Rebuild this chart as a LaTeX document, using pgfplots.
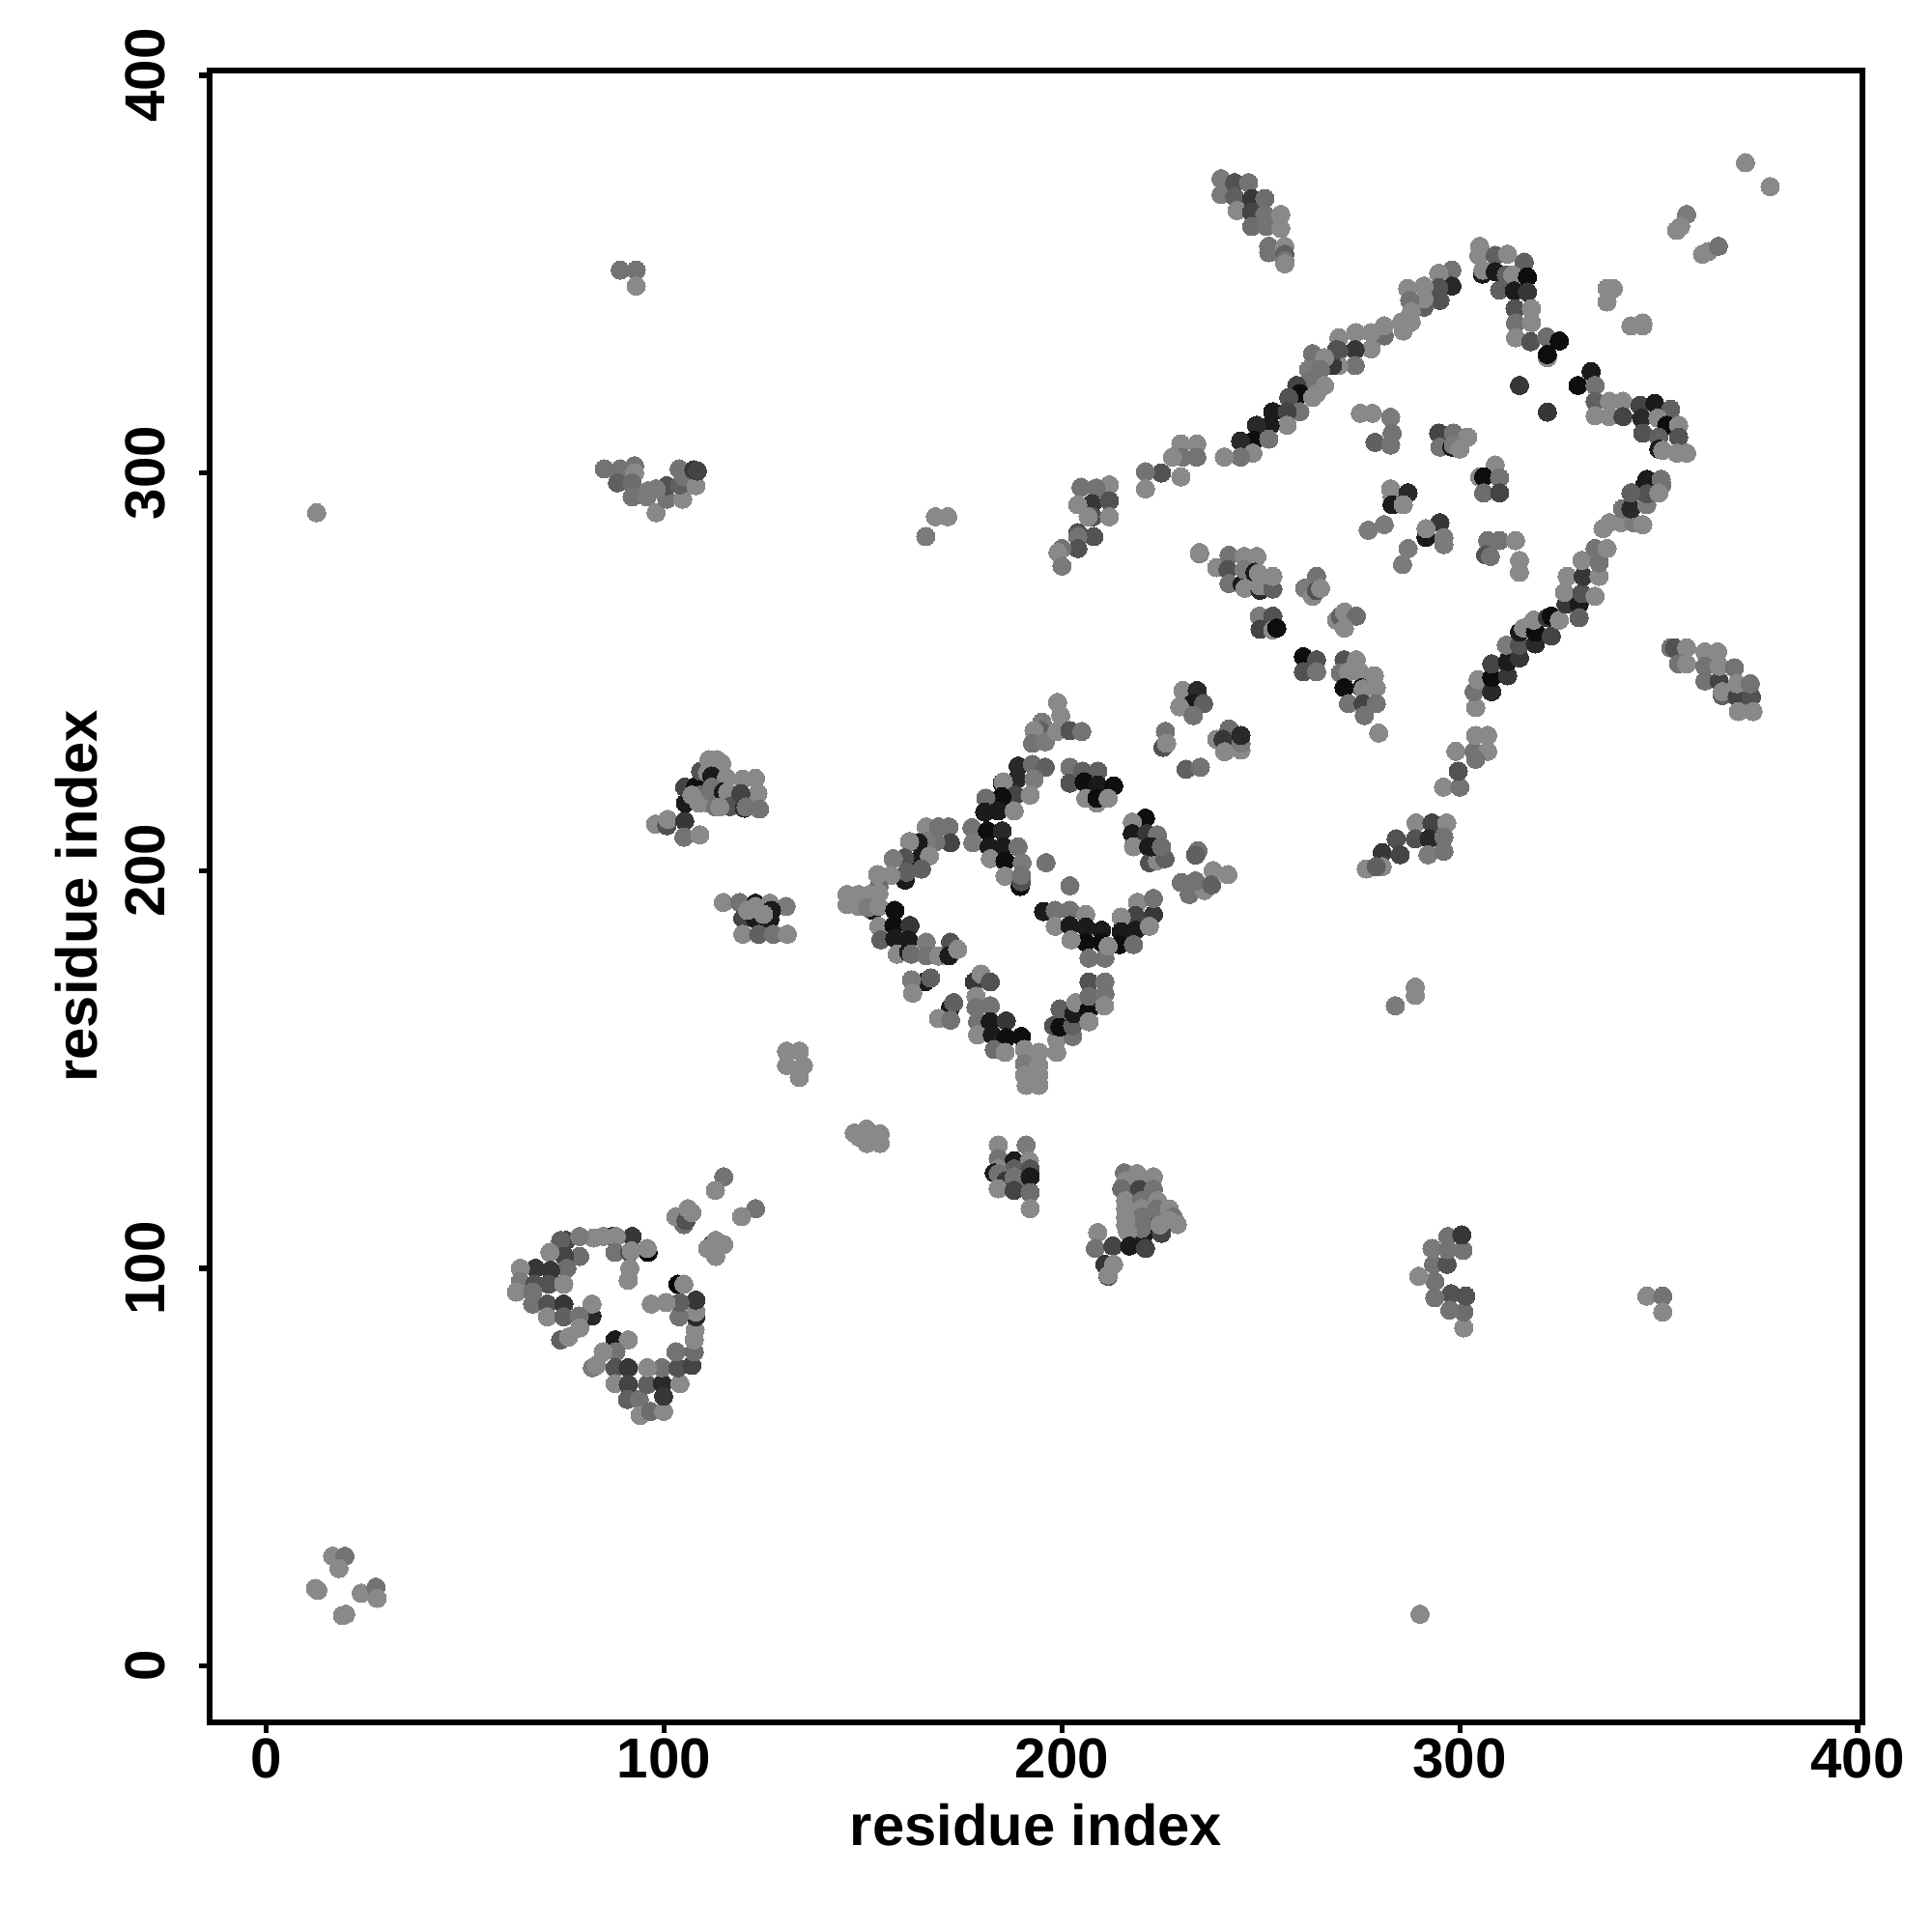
\documentclass[border=0pt]{standalone}
\usepackage{fontspec}
\setmainfont{Liberation Sans}
\usepackage{pgfplots}
\pgfplotsset{compat=1.18}
\pgfplotsset{colormap={grayscale}{gray(0cm)=(0); gray(1cm)=(1)}}
\begin{document}
\begin{tikzpicture}[x=1cm,y=1cm]
\path (0,0) rectangle (20,20);
\begin{axis}[
  at={(2.17cm,2.17cm)},anchor=south west,
  scale only axis,width=17.11cm,height=17.10cm,
  xmin=-14.2,xmax=401.2,ymin=-14.2,ymax=401.2,
  xtick={0,100,200,300,400},ytick={0,100,200,300,400},
  tick align=outside,xtick pos=bottom,ytick pos=left,
  major tick length=0.11cm,
  axis line style={line width=1.8pt},
  every tick/.style={black,line width=1.5pt},
  /pgf/number format/assume math mode=true,
  ticklabel style={font=\fontsize{16.6}{20}\selectfont\bfseries},
  xticklabel style={anchor=center,yshift=-0.26cm},
  yticklabel style={rotate=90,anchor=center,yshift=0.56cm},
  xlabel={residue index},ylabel={residue index},
  label style={font=\fontsize{17}{20}\selectfont\bfseries},
  xlabel style={at={(axis description cs:0.5,0)},anchor=center,yshift=-1.06cm},
  ylabel style={at={(axis description cs:0,0.5)},anchor=center,yshift=1.38cm},
  point meta min=0,point meta max=.94,
  clip=false
]
\addplot[only marks,scatter,point meta=explicit,mark=*,mark size=2.7pt,
  scatter/use mapped color={draw=mapped color,fill=mapped color},line width=0pt] coordinates {
% bottom-left
(12.4,19.5)[.5](13,19)[.5](16.7,27.6)[.5](19.8,27.6)[.42](18.3,24.5)[.5](19.2,12.7)[.5](20,13)[.5](23.9,18.3)[.5](27.6,19.8)[.42](27.9,17)[.5]
(12.7,290)[.5](290,13)[.5]
(89,351)[.42](93,351)[.42](93,347)[.5](347,93)[.5](351,93)[.42](351,89)[.5]
% cluster A
(115,123)[.42](112.9,119.6)[.5](123,115)[.42](119.5,113)[.5]
(105,111)[.4](103,113)[.5](105.5,112)[.3](106,115)[.5](107,114)[.5]
(112,106)[.25](115,106)[.5](111,105)[.5](113,103)[.5](113,107)[.5]
(96,104)[.03](95.8,105)[.5](87,108)[.2](92,108)[.2](88,108)[.5](84.7,108)[.5](82.3,107.6)[.5](75.4,107)[.25](74,107)[.35](78.8,108)[.45]
(78.8,103)[.4](75,103)[.25](71.3,104)[.5](75.6,100)[.4](71.5,99.5)[.2](67.7,100)[.2](63.9,100)[.5](63.9,96.7)[.45](67.5,96)[.3](71,96)[.3](74.8,96)[.5](62.9,94)[.5](67,94)[.42](67,91)[.42](70.7,91)[.3](74.8,91)[.2](70.7,87.8)[.5](74.8,87.8)[.35](81.9,88)[.15](81.9,91)[.5](78.7,88)[.42](78.8,85)[.5](74,82)[.35](76,82.7)[.5]
(87.7,104)[.42](91.4,104)[.3](91.8,104.4)[.5](91.4,100)[.5](91,97)[.5]
(87.7,82)[.1](91,82)[.5](87.9,79)[.42](84.7,79)[.5](82,75)[.45](83,75.6)[.5](87.7,75)[.3](91,75)[.2](87.7,71)[.5](91,70.8)[.25](90.8,67)[.35](93.8,67)[.42](94,63)[.5](96.6,64)[.4](99.9,64)[.5](95.8,70.8)[.35](99.6,71)[.15](99.9,67.8)[.2](99.5,75)[.42](95.8,75)[.5](104,71)[.5](103.5,75)[.3](103,79)[.42](107,75.6)[.25](107.6,79)[.4](107.6,82)[.5](107.8,84.5)[.5](108,87.8)[.15](108,89)[.5](108,92)[.2](103.8,87.8)[.42](104,91.4)[.35](100.5,91.4)[.5](96.8,91)[.5](103.5,96)[.03](105,96)[.5]
% 90,300
(85,301)[.42](89,301)[.42](92.6,301.8)[.42](92.6,300)[.5](88.3,297.5)[.35](92,297.5)[.4](92,294)[.42](95.7,294)[.45](98,290)[.5](100.7,293.4)[.42](104.7,293.4)[.5](100.7,296.8)[.3](103.8,301)[.42](104,297)[.35](105,299)[.42](108,296.8)[.5](107.5,300.8)[.2](108.4,300.5)[.25](96,295.5)[.45](98,296)[.45]
% 300,100
(301,85)[.5](301,89)[.4](301.5,93)[.3](297.8,93.6)[.3](297.5,89.5)[.42](293.7,92.6)[.42](293.7,96.7)[.42](289.7,98)[.5](293.4,101)[.42](296.8,101)[.3](293,105)[.45](297,104.7)[.42](297,108)[.42](300.8,104.5)[.42](300.5,108.4)[.2]
% 110,220
(97.9,211.7)[.35](97.9,211.7)[.5](100.7,211.3)[.3](100.9,212.9)[.5](105.2,212.5)[.2](105,208.4)[.42](109,209)[.5](105.4,217)[.1](105.2,221)[.25](108,221.2)[.05](109,219)[.4](107,219)[.5](109.2,225)[.3](110.9,224.6)[.5](111.3,227.9)[.5](113.3,227.9)[.5](114.5,227)[.5](112,223.8)[.1](115.7,223.4)[.5](108.8,217)[.5](111.2,217)[.5](112,221)[.42](112,219.8)[.42](114.9,219.8)[.1](116,219.8)[.5](117,219)[.5](113,216)[.42](116.5,216.1)[.3](114,216)[.5](119.8,223)[.5](123,223.2)[.5](123.6,219.4)[.5](119.3,219.4)[.25](120.2,215.7)[.15](120.6,216)[.42](124,215.5)[.42]
% 125,187
(114.9,192)[.5](119,192)[.42](123,191.8)[.1](123,191)[.5](126.6,191.8)[.5](130.7,191)[.45](119.8,188)[.25](123,187.8)[.1](126.6,187.8)[.1](127,190)[.1](121,190)[.5](125,189)[.5](119.8,184)[.5](123.8,184)[.35](127.5,184)[.42](131,184)[.5]
% 188,123
(184,131)[.5](191,131)[.45](184,127.6)[.42](188,127)[.1](191.8,127)[.5](184,125)[.5](188,125)[.35](192,125)[.3](183,124)[.1](184,123.8)[.42](186,122)[.2](190,122)[.4](188,123)[.42](192,123)[.1](184,120)[.5](188,119.6)[.25](192,119)[.4](192,115)[.5]
% 220,112
(215.7,124)[.42](218.9,123.8)[.5](223,123)[.5](216,122)[.5](220,121)[.5](215,120)[.4](219.5,119.8)[.25](223,119.9)[.42](216,117)[.5](220,117)[.42](224,117)[.5](216,115)[.5](220,115)[.5](224,112)[.35](223.8,114.9)[.42](227,114.9)[.5](228,112.9)[.42](227,112)[.5](229,111)[.5](220.5,108.4)[.1](225,108.8)[.25](224.6,110.9)[.5](220,112.9)[.42](220,110)[.42](216,112.9)[.5](216,111)[.5](216.5,109.2)[.5](209,109)[.5](208.4,105)[.42](212.8,105.6)[.25](217,105.6)[.1](221,105)[.25](210.8,101)[.2](213,101)[.5](211.6,98)[.25](211.6,98.3)[.5]
% 150,132
(147.8,134)[.5](150.9,135)[.5](151,131.4)[.5](154.3,133.8)[.5](154.3,131.4)[.5](149,133)[.5](130.8,154.6)[.5](134,154.6)[.5](130.8,151)[.5](135,151)[.5](134,148)[.5]
% diamond
(198.9,242.3)[.5](199.7,239)[.5](195,237.3)[.45](194.6,235.2)[.35](193,235.2)[.5](192.6,232)[.42](195.8,232.4)[.45](198.7,235)[.5](202,235.2)[.3](205,235)[.42]
(189,226.3)[.15](192.6,226.7)[.4](195.8,226)[.35](188.7,223)[.15](193,223)[.45](185,222)[.15](185.3,222.3)[.5](188.3,219)[.25](192,219)[.5](184.9,218.6)[.05](180.9,218.2)[.4](184,215)[.1](188,215)[.5](180.6,214.7)[.1]
(202,226)[.42](202,222)[.3](205.2,225)[.35](209,225)[.35](205.6,222.3)[.05](209,221.5)[.1](213,221.3)[.05](206,218.2)[.5](208.8,217)[.5](208.8,218.2)[.05](211.6,218.2)[.5]
(221,213.2)[.05](217.7,212.2)[.5](217.7,209.3)[.1](221.4,209.3)[.2](224,209)[.42](218,206)[.5](221.8,206)[.1](222,202)[.3](224,202.5)[.5](225.9,203)[.35](222.5,206)[.1](225,206)[.4]
(234.2,205)[.42](233.6,203.9)[.35](238,200)[.5](241.7,199)[.5](232,194)[.42](235.8,195)[.5](233.6,197.4)[.42](237.6,196.4)[.35](230,197)[.42]
(223,189)[.2](219,192)[.5](218.5,188.7)[.25](214.9,188.3)[.5](214.9,184.6)[.1](218.5,185)[.1](222,186)[.5](223,193)[.42](214.5,181.4)[.05](218,181.4)[.4]
(195.4,189.7)[.1](198.3,190)[.42](202,190)[.42](206,189)[.5](198.3,186)[.5](202,186.2)[.1](206,185.8)[.1](210,185)[.1](206,182)[.05](202.3,182.6)[.5](210,182)[.05](206.8,178)[.42](210.8,178)[.42](211.6,181)[.5]
(196,202)[.42](202,196.2)[.42]
(177.4,210.8)[.42](177.6,207)[.45](181.3,210)[.05](185,210)[.15](181.7,206)[.1](185.3,206)[.1](189,206)[.42](182,203)[.5](185.7,202.4)[.05](190,202)[.45](185.7,198.6)[.5](189.5,196)[.05](189.8,197.2)[.3](189.8,198.8)[.42]
(171.6,211)[.42](165.9,211)[.5](169,211)[.42](172,207)[.25](168.3,207.3)[.42](165.9,207.3)[.45](163.9,207)[.1](161.7,207.3)[.5](164.3,202.9)[.1](166.7,203.7)[.5](160.5,203.2)[.3](157.6,203)[.45](164.7,200.4)[.35](160.6,197.6)[.1](161,199.6)[.35](157,198.8)[.5](154,196)[.4](153.7,199)[.5]
(146,194)[.5](148.9,194)[.5](151.7,194)[.5](154,194.3)[.5](146,191.5)[.5](148.9,191)[.5](152.5,190)[.1](151.3,190.7)[.45](154,191)[.5](158,190)[.05]
(154,186)[.5](157.8,186.2)[.05](161.8,186.2)[.2](154.5,182.6)[.35](158,183)[.1](161.4,182.6)[.1](165.9,182)[.45](158.6,179)[.5](161.5,179.5)[.1](162.2,179)[.4](165.9,178.6)[.42](169,178.5)[.5](172,182)[.3](171.6,178.6)[.1](173.8,180.2)[.5]
(165.5,172)[.1](167,173)[.35](162.2,172.5)[.45](162.5,169.2)[.5](172,165.6)[.1](172.8,166.8)[.35](169,162.8)[.5](172,162.4)[.42]
(178,172)[.2](179.7,174)[.5](182,172)[.3](178.4,168.4)[.5](178.4,165.6)[.42](182,166)[.42](178.8,162)[.42](182,162)[.1](186,162.2)[.2](178.8,158.7)[.5](182.5,158.7)[.1](186,158)[.05](183,155)[.4](185.7,154.3)[.5](189.8,158.3)[.05](190.6,155)[.5](194.2,154.3)[.5](190.6,151.4)[.45](194.2,151)[.5](190.6,148.6)[.5](194.2,148.6)[.5](191,146)[.5](194.2,146)[.5]
(198.7,154.3)[.5](198.7,157.5)[.5](202.7,158.3)[.42](197.9,161)[.3](199.5,160.7)[.05](199.5,165.2)[.35](202.7,161)[.35](203,164)[.1](203.5,166.8)[.5](206.8,165)[.05](206.8,162)[.5](206.8,172)[.3](206.8,168.4)[.4](210.8,172)[.42](210.8,169)[.42](210.7,166)[.5]
% 235,240
(230.4,245.3)[.5](234,245.3)[.15](232.8,242)[.1](235.6,242)[.35](229.6,241.2)[.5](233,239)[.42](225.4,231)[.3](226,235)[.42](226.3,232)[.5]
(242,235.6)[.4](238.9,233)[.5](240.5,233)[.2](240.9,229.9)[.5](245,230.3)[.5](245,232)[.45](245,234)[.15](231.2,225.5)[.35](234.8,226)[.42]
% 245,275
(234.6,279.7)[.45](234.6,280)[.5](238.9,276.2)[.5](242,279.3)[.42](241.7,275.7)[.3](242,272.2)[.42](245.3,272)[.1](245.8,279)[.5](249,279)[.5](245.8,275.7)[.45](246,271)[.5](248.5,275)[.1](249.4,274.8)[.5](249.8,270.5)[.15](249.8,271.6)[.5](253,270.8)[.35](253,274)[.5]
(264,274)[.42](261,271)[.45](263,269)[.5](264,270.4)[.3](265,271)[.5](269,263)[.5](270,264)[.35](271,265)[.5](274,264)[.4](271,261)[.5]
(249.6,264)[.45](253,264)[.3](249.8,260.7)[.25](253,260.5)[.5](254,261)[.05](260.7,253.8)[.05](264,253)[.3](260.7,250)[.3](264,250)[.42]
(270.9,253)[.3](274,253)[.5](271,249)[.1](270,249.7)[.42](272,250)[.5](274.9,250)[.5](278.5,249)[.5](270.9,246)[.05](275.3,246)[.1](275.7,245.7)[.5](279,246)[.5](272,242)[.42](275.7,242)[.25](279,242)[.42](276,239)[.42](279.6,234.6)[.5]
% long arm
(289,212)[.5](293,212)[.25](296.7,212)[.5](288.8,208)[.3](292.3,208)[.15](296,208.5)[.42](292,204)[.45](296,204.9)[.42](284,208)[.3](280.5,204.5)[.2](285,204)[.25](280.5,201)[.5](276.5,200.4)[.5](279,201)[.35]
(295.9,221)[.5](300,221)[.42](299.6,225)[.3](299,230)[.5](303.6,230)[.42](307,230)[.5](304,228)[.42](304,234)[.5](307,234)[.5]
(304,241)[.5](303.6,245)[.42](304.6,248)[.5](308,245)[.15](308,248.6)[.05](308,252)[.25](312,249)[.2](312,252.6)[.1](311.7,256.7)[.45](315,253.5)[.2](315,256.7)[.3](315,260)[.1](316,261)[.5](319,257)[.15](319,260)[.05](318.6,263)[.5](323,259)[.25](322,263.6)[.2](323,264)[.05](325,263)[.5](326.7,267)[.2](330,267)[.1](330,263.6)[.35](326.3,270)[.5](330.7,269.7)[.3](334,269)[.5](327,274)[.5](331,274)[.2](330.7,278)[.5](335,274)[.5](335,277.4)[.42](334,281)[.42](337,281)[.5](336,286)[.5](337.6,287.5)[.5](340.5,287.5)[.5](343.7,287.5)[.45](346,287)[.5](340.9,291)[.42](343.3,295)[.35](343,291)[.15](347,292)[.45](346.8,295)[.2](350,295)[.5](346.5,297)[.1](350.8,297)[.42]
% right cluster
(333,325.5)[.1](329.7,322)[.05](334,322)[.42](334,318)[.35](337.6,318)[.5](341,318)[.5](334,314.4)[.5](337.5,314.2)[.5](341,314.2)[.25](345.3,317)[.25](349,317.5)[.1](353,316)[.35](345.7,313.8)[.15](349.8,313.8)[.5](346,310)[.3](352,312)[.05](355,312)[.5](355,309)[.3](350,309)[.35](350,306)[.1](351,305.7)[.5](354.6,305)[.5](357,305)[.5]
(347,298.4)[.1](350.6,298.4)[.42](347,294.8)[.3](350,295)[.5](343,295)[.35]
(315,322)[.2](322,315.3)[.2]
(305,357)[.5](304.8,354.7)[.5](305.7,350)[.1](305.8,351)[.5](308.9,354.7)[.35](312,355)[.5](316.2,353)[.35](308.9,350.6)[.1](311.7,349.8)[.35](313.3,349.8)[.5](317,349.3)[.05](310,346)[.35](313.7,345.8)[.1](317,345.5)[.2]
(313.9,341.3)[.3](318,341.3)[.5](314,337.7)[.42](318,337.8)[.5](314,334)[.5](317.8,333)[.3](321.8,334.2)[.4](325,333.2)[.05](322,329)[.5](322,329.8)[.05]
% upper left arm
(298,351)[.42](298,347)[.15](294.7,350.2)[.5](294.7,346.6)[.3](295,343.4)[.3](291,341.7)[.35](291,347)[.5](286.9,346.4)[.5](291,343.8)[.5](287.4,343.4)[.42](287.8,340.5)[.5](287.8,338)[.5](285.8,335.7)[.5](285.4,338)[.5](281,334.5)[.4](281,337)[.5](277.7,335.3)[.5](277.7,331.2)[.5](273.9,335.3)[.5](273.7,331)[.2](269.6,334)[.5](269.6,330.8)[.3](273.7,327)[.42](269.6,327)[.5]
(268,327)[.2](269,331)[.3](263,330)[.42](266,329)[.5](262,326)[.45](265,326)[.42](262,323)[.42](266,322)[.5](259,322)[.25](264,320)[.5]
(259.8,320)[.05](263,319)[.5](257,319)[.3](259.8,315.4)[.42](253,315.4)[.1](256.6,315.4)[.25](256.6,312)[.5](252.3,312)[.1](248.9,312)[.15](248.3,308.2)[.05](252,308.5)[.42](244.9,308)[.15](248,305)[.5](244.9,304)[.42](240.8,304)[.5]
(229.9,307.3)[.5](233.9,307.3)[.5](233.9,304)[.42](230.3,304)[.42](227.8,304)[.5](229.9,299)[.5](225,300)[.3](221,300.3)[.42](221,296)[.5]
(211.9,297)[.5](208.6,296.2)[.42](204.8,296.4)[.42](207.6,292.3)[.2](211.9,293)[.3](204,292)[.5](207.8,289)[.3](211.9,289)[.5](206.6,289)[.5]
(204,285)[.3](208,284)[.3](204,284)[.42](204,281)[.3](200,281)[.42](199,280)[.5](200,276.6)[.45]
(165.8,284)[.45](168.2,289)[.5](171.3,289)[.5](288.8,170.7)[.5](288.8,168.6)[.5](283.8,166)[.45]
% 250,365
(240,374)[.45](240,370)[.45](243.4,373)[.3](246.9,373)[.42](243.4,369.5)[.35](244,366)[.5](247.7,369)[.2](251,369)[.4](247.7,365.6)[.25](251,365)[.42](247.7,362)[.4](251.4,362)[.42](255,365)[.5](255,361.5)[.5](252,357)[.42](252,355.4)[.42](256,357)[.5](256,355)[.35](256,353.4)[.42](256,352.6)[.5]
% 365,250
(353,256)[.42](354,256)[.3](357,256)[.5](355,252)[.42](357,252)[.5](361.6,255)[.5](364.8,255)[.5](361.6,251.4)[.42](361.6,247.7)[.42](365.2,247.7)[.25](365.2,251.4)[.5](369,251)[.42](366,244)[.35](366,245)[.5](369.7,243.7)[.25](373.3,243.7)[.3](369.7,247)[.5](373,247)[.42](370,240)[.5](373.7,240)[.5]
% upper right
(354.5,361)[.5](357,365)[.45](355.5,362)[.5](361,355)[.5](362.5,355.7)[.5](365,357)[.42](371.8,378)[.5](378,372)[.5]
(337,346.4)[.5](338.6,346.4)[.5](337,343)[.5](343,337)[.5](346,337.7)[.5](346,337)[.5]
% inner cluster
(275,315)[.5](278,315)[.5](282.6,314)[.45](283,310)[.42](278.7,307.7)[.35](282.6,307)[.42]
(294.7,310)[.25](298.4,310)[.42](302,309)[.5](295,306.5)[.42](298,306.5)[.1](298.4,307)[.45](300,306)[.5]
(308.9,302)[.5](305,299)[.5](306,299)[.05](310,298.8)[.42](306,295)[.4](310,295)[.25]
(282.6,296)[.5](283,294)[.5](287,295)[.15](283,292)[.1](285.8,292)[.5]
(277,285.6)[.45](281,287)[.45](287,281)[.45](285.6,277)[.45](291.5,283.8)[.1](295,287.5)[.2](291.5,286)[.5](296,283.8)[.45](296,282)[.45]
(307,283)[.42](310,283)[.42](314,283)[.5](306.5,279.4)[.3](307.7,279)[.42](315,278)[.5](315,275)[.5]
};
\end{axis}
\end{tikzpicture}
\end{document}
